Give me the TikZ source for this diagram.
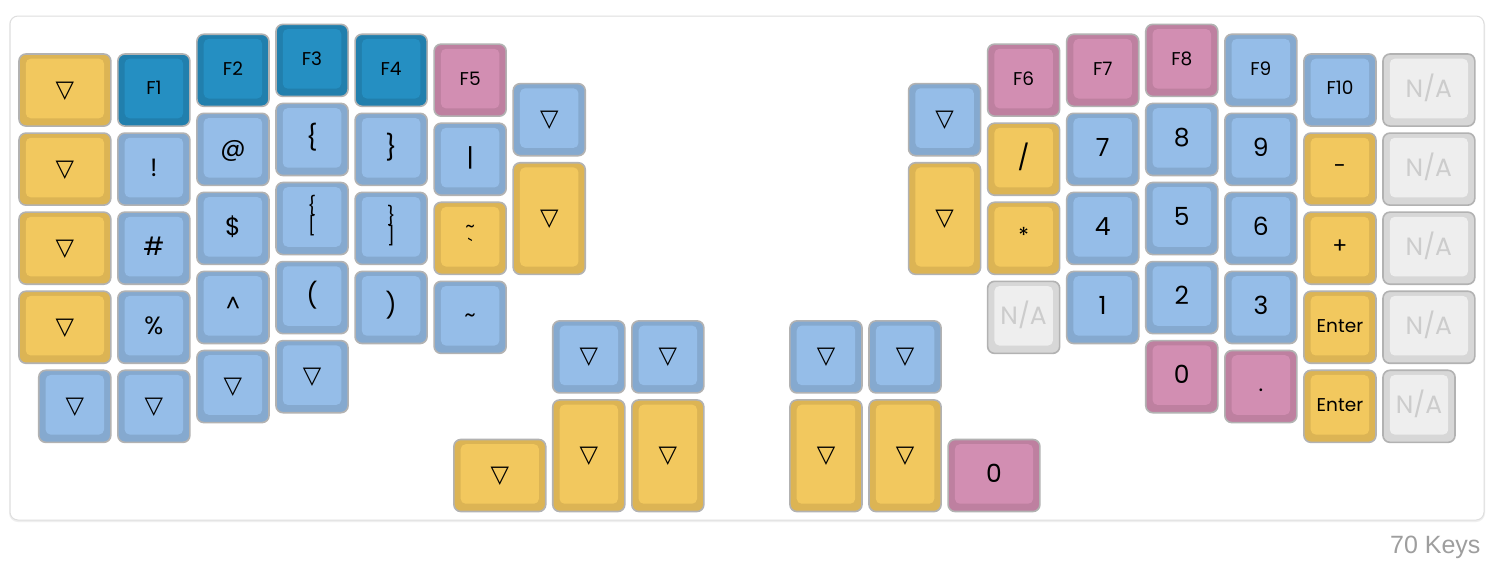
\documentclass[tikz,border=0pt]{standalone}
\usepackage{fontspec}
\newfontfamily\keyfont{Poppins}
\newfontfamily\symfont{DejaVu Sans}
\newfontfamily\capfont{Liberation Sans}
\definecolor{Yin}{HTML}{F2C85E}
\definecolor{Yout}{HTML}{DCB454}
\definecolor{Bin}{HTML}{95BDE8}
\definecolor{Bout}{HTML}{85A9CF}
\definecolor{Din}{HTML}{258FC2}
\definecolor{Dout}{HTML}{217FAD}
\definecolor{Pin}{HTML}{D28EB2}
\definecolor{Pout}{HTML}{BE80A0}
\definecolor{Gin}{HTML}{EEEEEE}
\definecolor{Gout}{HTML}{D7D7D7}
\definecolor{keyborder}{HTML}{B2B2B2}
\definecolor{natext}{HTML}{CCCCCC}
\definecolor{cardedge}{HTML}{DEDEDE}
\definecolor{cardshadow}{HTML}{EFEFEF}
\definecolor{counttext}{HTML}{9E9E9E}
\tikzset{
  keyedge/.style={draw=keyborder, line width=1.6pt, rounded corners=7pt},
  keyL/.style={font=\keyfont\fontsize{25}{29}\selectfont, anchor=base, yshift=-8.7pt, text=black},
  keyS/.style={font=\keyfont\fontsize{18.5}{21}\selectfont, anchor=base, yshift=-6.4pt, text=black},
  keySym/.style={font=\keyfont\fontsize{22}{25}\selectfont, anchor=base, yshift=-6.4pt, text=black},
  keyT/.style={font=\symfont\fontsize{24}{28}\selectfont, anchor=center, yshift=-2.4pt, text=black},
  keyN/.style={keyL, text=natext},
  keyStwo/.style={font=\keyfont\fontsize{18.5}{21}\selectfont, anchor=base, text=black},
}
% draw the cap of a key; sets \kcx, \kcy (centre of the inner face)
\newcommand{\kbcap}[5]{%
  \pgfmathsetmacro{\kx}{19+79.07*#1}%
  \pgfmathsetmacro{\ky}{54+79.07*#2}%
  \pgfmathsetmacro{\kw}{79.07*#3-7}%
  \pgfmathsetmacro{\kh}{79.07*#4-7}%
  \pgfmathsetmacro{\kcx}{\kx+\kw/2}%
  \pgfmathsetmacro{\kcy}{\ky+\kh/2-1.55}%
  \draw[keyedge, fill=#5out] (\kx,\ky) rectangle ++(\kw,\kh);
  \fill[#5in, rounded corners=5pt] (\kx+6.8,\ky+4.7) rectangle (\kx+\kw-6.8,\ky+\kh-7.8);
}
% name, cu, ru, wu, hu, colour, style, label
\newcommand{\kbkey}[8]{%
  \kbcap{#2}{#3}{#4}{#5}{#6}%
  \node[#7] (#1) at (\kcx,\kcy) {#8};
}
% name, cu, ru, wu, hu, colour, top, bottom
\newcommand{\kbkeytwo}[8]{%
  \kbcap{#2}{#3}{#4}{#5}{#6}%
  \node[keyStwo] (#1a) at (\kcx,\kcy-4.5) {#7};
  \node[keyStwo] (#1b) at (\kcx,\kcy+16) {#8};
}
\begin{document}
\begin{tikzpicture}[x=1pt,y=-1pt]
\useasboundingbox (0,0) rectangle (1501,565);
\fill[white] (0,0) rectangle (1501,565);
% card
\fill[cardshadow, rounded corners=9pt] (9,16) rectangle (1485,522);
\draw[cardedge, fill=white, line width=1pt, rounded corners=8pt] (10,16) rectangle (1484,520);

% ---------------- left half ----------------
\kbkey{l00}{0}{0}{1.25}{1}{Y}{keyT}{▽}
\kbkey{l01}{0}{1}{1.25}{1}{Y}{keyT}{▽}
\kbkey{l02}{0}{2}{1.25}{1}{Y}{keyT}{▽}
\kbkey{l03}{0}{3}{1.25}{1}{Y}{keyT}{▽}
\kbkey{l04}{0.25}{4}{1}{1}{B}{keyT}{▽}

\kbkey{l10}{1.25}{0}{1}{1}{D}{keyS}{F1}
\kbkey{l11}{1.25}{1}{1}{1}{B}{keyL}{!}
\kbkey{l12}{1.25}{2}{1}{1}{B}{keyL}{\#}
\kbkey{l13}{1.25}{3}{1}{1}{B}{keyL}{\%}
\kbkey{l14}{1.25}{4}{1}{1}{B}{keyT}{▽}

\kbkey{l20}{2.25}{-0.25}{1}{1}{D}{keyS}{F2}
\kbkey{l21}{2.25}{0.75}{1}{1}{B}{keyL}{@}
\kbkey{l22}{2.25}{1.75}{1}{1}{B}{keyL}{\$}
\kbkey{l23}{2.25}{2.75}{1}{1}{B}{keySym}{\textasciicircum}
\kbkey{l24}{2.25}{3.75}{1}{1}{B}{keyT}{▽}

\kbkey{l30}{3.25}{-0.375}{1}{1}{D}{keyS}{F3}
\kbkey{l31}{3.25}{0.625}{1}{1}{B}{keyL}{\{}
\kbkeytwo{l32}{3.25}{1.625}{1}{1}{B}{\{}{[}
\kbkey{l33}{3.25}{2.625}{1}{1}{B}{keyL}{(}
\kbkey{l34}{3.25}{3.625}{1}{1}{B}{keyT}{▽}

\kbkey{l40}{4.25}{-0.25}{1}{1}{D}{keyS}{F4}
\kbkey{l41}{4.25}{0.75}{1}{1}{B}{keyL}{\}}
\kbkeytwo{l42}{4.25}{1.75}{1}{1}{B}{\}}{]}
\kbkey{l43}{4.25}{2.75}{1}{1}{B}{keyL}{)}

\kbkey{l50}{5.25}{-0.125}{1}{1}{P}{keyS}{F5}
\kbkey{l51}{5.25}{0.875}{1}{1}{B}{keyL}{\textbar}
\kbkeytwo{l52}{5.25}{1.875}{1}{1}{Y}{\textasciitilde}{\textasciigrave}
\kbkey{l53}{5.25}{2.875}{1}{1}{B}{keySym}{\textasciitilde}

\kbkey{l60}{6.25}{0.375}{1}{1}{B}{keyT}{▽}
\kbkey{l61}{6.25}{1.375}{1}{1.5}{Y}{keyT}{▽}

% left thumb
\kbkey{lt1}{6.75}{3.375}{1}{1}{B}{keyT}{▽}
\kbkey{lt2}{7.75}{3.375}{1}{1}{B}{keyT}{▽}
\kbkey{lt3}{5.5}{4.875}{1.25}{1}{Y}{keyT}{▽}
\kbkey{lt4}{6.75}{4.375}{1}{1.5}{Y}{keyT}{▽}
\kbkey{lt5}{7.75}{4.375}{1}{1.5}{Y}{keyT}{▽}

% ---------------- right thumb ----------------
\kbkey{rt1}{9.75}{3.375}{1}{1}{B}{keyT}{▽}
\kbkey{rt2}{10.75}{3.375}{1}{1}{B}{keyT}{▽}
\kbkey{rt3}{9.75}{4.375}{1}{1.5}{Y}{keyT}{▽}
\kbkey{rt4}{10.75}{4.375}{1}{1.5}{Y}{keyT}{▽}
\kbkey{rt5}{11.75}{4.875}{1.25}{1}{P}{keyL}{0}

% ---------------- right half ----------------
\kbkey{r00}{11.25}{0.375}{1}{1}{B}{keyT}{▽}
\kbkey{r01}{11.25}{1.375}{1}{1.5}{Y}{keyT}{▽}

\kbkey{r10}{12.25}{-0.125}{1}{1}{P}{keyS}{F6}
\kbkey{r11}{12.25}{0.875}{1}{1}{Y}{keyL}{/}
\kbkey{r12}{12.25}{1.875}{1}{1}{Y}{keySym}{*}
\kbkey{r13}{12.25}{2.875}{1}{1}{G}{keyN}{N/A}

\kbkey{r20}{13.25}{-0.25}{1}{1}{P}{keyS}{F7}
\kbkey{r21}{13.25}{0.75}{1}{1}{B}{keyL}{7}
\kbkey{r22}{13.25}{1.75}{1}{1}{B}{keyL}{4}
\kbkey{r23}{13.25}{2.75}{1}{1}{B}{keyL}{1}

\kbkey{r30}{14.25}{-0.375}{1}{1}{P}{keyS}{F8}
\kbkey{r31}{14.25}{0.625}{1}{1}{B}{keyL}{8}
\kbkey{r32}{14.25}{1.625}{1}{1}{B}{keyL}{5}
\kbkey{r33}{14.25}{2.625}{1}{1}{B}{keyL}{2}
\kbkey{r34}{14.25}{3.625}{1}{1}{P}{keyL}{0}

\kbkey{r40}{15.25}{-0.25}{1}{1}{B}{keyS}{F9}
\kbkey{r41}{15.25}{0.75}{1}{1}{B}{keyL}{9}
\kbkey{r42}{15.25}{1.75}{1}{1}{B}{keyL}{6}
\kbkey{r43}{15.25}{2.75}{1}{1}{B}{keyL}{3}
\kbkey{r44}{15.25}{3.75}{1}{1}{P}{keySym}{.}

\kbkey{r50}{16.25}{0}{1}{1}{B}{keyS}{F10}
\kbkey{r51}{16.25}{1}{1}{1}{Y}{keySym}{-}
\kbkey{r52}{16.25}{2}{1}{1}{Y}{keySym}{+}
\kbkey{r53}{16.25}{3}{1}{1}{Y}{keyS}{Enter}
\kbkey{r54}{16.25}{4}{1}{1}{Y}{keyS}{Enter}

\kbkey{r60}{17.25}{0}{1.25}{1}{G}{keyN}{N/A}
\kbkey{r61}{17.25}{1}{1.25}{1}{G}{keyN}{N/A}
\kbkey{r62}{17.25}{2}{1.25}{1}{G}{keyN}{N/A}
\kbkey{r63}{17.25}{3}{1.25}{1}{G}{keyN}{N/A}
\kbkey{r64}{17.25}{4}{1}{1}{G}{keyN}{N/A}

\node[font=\capfont\fontsize{25}{29}\selectfont, text=counttext, anchor=base east] (count) at (1484,553) {70 Keys};
\end{tikzpicture}
\end{document}
